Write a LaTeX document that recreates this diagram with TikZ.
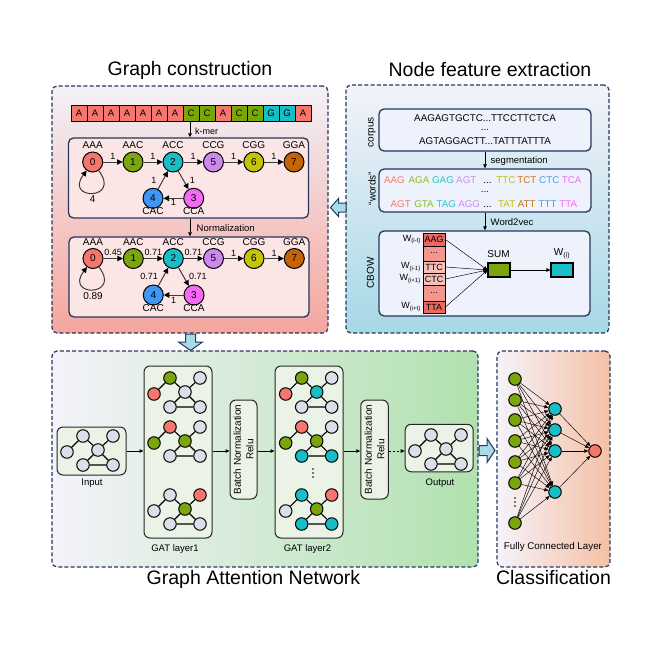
\documentclass[tikz,border=0pt]{standalone}
\usepackage{fontspec}
\setmainfont{Liberation Sans}
\usetikzlibrary{arrows.meta}
\definecolor{navy}{RGB}{38,56,92}
\definecolor{nred}{RGB}{244,118,108}
\definecolor{ngreen}{RGB}{122,166,12}
\definecolor{ncyan}{RGB}{24,190,198}
\definecolor{nviolet}{RGB}{204,136,238}
\definecolor{nyellow}{RGB}{196,196,8}
\definecolor{nbrown}{RGB}{196,100,4}
\definecolor{nblue}{RGB}{64,150,245}
\definecolor{nmag}{RGB}{245,106,245}
\definecolor{ngray}{RGB}{222,222,235}
\definecolor{edgegray}{RGB}{60,60,60}
\definecolor{lightblue}{RGB}{168,218,232}
\definecolor{pinkbox}{RGB}{252,229,229}
\definecolor{bluebox}{RGB}{238,242,252}
\definecolor{greenbox}{RGB}{234,243,229}
\definecolor{wred}{RGB}{244,122,112}
\definecolor{wgreen}{RGB}{140,190,38}
\definecolor{wcyan}{RGB}{38,196,204}
\definecolor{wviolet}{RGB}{200,140,240}
\definecolor{wyellow}{RGB}{190,190,16}
\definecolor{wbrown}{RGB}{200,114,26}
\definecolor{wblue}{RGB}{76,155,245}
\definecolor{wmag}{RGB}{240,112,240}
\definecolor{cdark}{RGB}{238,104,96}
\definecolor{cmid}{RGB}{243,150,142}
\definecolor{clight}{RGB}{247,192,186}
\newcommand\tdots{...}
\newcommand\gatgraph[9]{%
 \node[gn, fill=#4] (#1A) at ({#2-31},{#3+2}) {};
 \node[gn, fill=#5] (#1B) at ({#2-15},{#3-14}) {};
 \node[gn, fill=#6] (#1C) at ({#2+15},{#3-14}) {};
 \node[gn, fill=#7] (#1D) at (#2,#3) {};
 \node[gn, fill=#8] (#1E) at ({#2-15},{#3+15}) {};
 \node[gn, fill=#9] (#1F) at ({#2+15},{#3+15}) {};
 \draw[gedge] (#1A)--(#1B) (#1B)--(#1D) (#1C)--(#1D) (#1D)--(#1E) (#1D)--(#1F) (#1E)--(#1F);
}
\begin{document}
\begin{tikzpicture}[x=1pt,y=-1pt,
 panel/.style={draw=navy, line width=1.2pt, dash pattern=on 4pt off 2.2pt, rounded corners=5pt, inner sep=0pt},
 ibox/.style={draw=navy, line width=1.3pt, rounded corners=5pt, inner sep=0pt},
 gbox/.style={draw=black!85, line width=1pt, rounded corners=6pt, fill=greenbox, inner sep=0pt},
 kn/.style={circle, draw=black, line width=1pt, minimum size=20pt, inner sep=0pt, font=\fontsize{10}{10}\selectfont},
 gn/.style={circle, draw=black, line width=1pt, minimum size=12.5pt, inner sep=0pt},
 kedge/.style={draw=edgegray, line width=1pt, -{Triangle[length=5.5pt,width=5.5pt,color=black]}},
 gedge/.style={draw=black, line width=1.1pt},
 arr/.style={draw=black, line width=0.7pt, -{Triangle[length=4pt,width=3.5pt]}},
 thinarr/.style={draw=black, line width=0.45pt, -{Triangle[length=4pt,width=3.5pt]}},
 lab/.style={inner sep=0pt, font=\fontsize{10}{11}\selectfont},
 elab/.style={inner sep=0pt, font=\fontsize{9}{10}\selectfont},
 wlab/.style={inner sep=0pt, text height=7pt, text depth=0pt, font=\fontsize{9.8}{11}\selectfont},
 ttl/.style={inner sep=0pt, font=\fontsize{19.5}{21}\selectfont},
 seqbox/.style={draw=black, line width=0.8pt, minimum width=16pt, minimum height=16pt, inner sep=0pt, font=\fontsize{9.5}{10}\selectfont},
 cbcell/.style={draw=black, line width=0.9pt, minimum width=22pt, inner sep=0pt, font=\fontsize{9}{10}\selectfont},
 blockarr/.style={draw=navy, fill=lightblue, line width=1pt, line join=miter},
 vdot/.style={circle, fill=black, inner sep=0pt, minimum size=1.7pt}
]
\useasboundingbox (0,0) rectangle (664,664);
\fill[white] (0,0) rectangle (664,664);

% ---------- panels ----------
\node[panel, minimum width=276pt, minimum height=247pt,
  top color={rgb,255:red,243;green,241;blue,247}, middle color={rgb,255:red,249;green,214;blue,214}, bottom color={rgb,255:red,244;green,166;blue,158}] (pGC) at (190,209.5) {};
\node[panel, minimum width=263pt, minimum height=248pt,
  top color={rgb,255:red,243;green,243;blue,250}, middle color={rgb,255:red,212;green,235;blue,243}, bottom color={rgb,255:red,166;green,216;blue,230}] (pNF) at (477.5,209) {};
\node[panel, minimum width=426pt, minimum height=216pt,
  left color={rgb,255:red,244;green,243;blue,250}, middle color={rgb,255:red,210;green,236;blue,207}, right color={rgb,255:red,176;green,225;blue,174}] (pGAT) at (265,459) {};
\node[panel, minimum width=113pt, minimum height=216pt,
  left color={rgb,255:red,245;green,243;blue,250}, middle color={rgb,255:red,246;green,222;blue,212}, right color={rgb,255:red,245;green,192;blue,165}] (pCL) at (553.5,459) {};

% titles
\node[ttl] (tGC) at (190,70) {Graph construction};
\node[ttl] (tNF) at (490,70) {Node feature extraction};
\node[ttl] (tGAT) at (253.5,579) {Graph Attention Network};
\node[ttl] (tCL) at (553.5,578) {Classification};

% block arrows
\draw[blockarr] (185.5,334) -- (195.5,334) -- (195.5,342) -- (202.5,342) -- (190.5,350.5) -- (178.5,342) -- (185.5,342) -- cycle;
\draw[blockarr] (346,203) -- (338.5,203) -- (338.5,198.5) -- (330.5,207.5) -- (338.5,216.5) -- (338.5,212) -- (346,212) -- cycle;
\draw[blockarr] (479,445.5) -- (487,445.5) -- (487,438.5) -- (495,450.5) -- (487,462.5) -- (487,455.5) -- (479,455.5) -- cycle;

% ---------- Graph construction ----------
\foreach \l/\c [count=\i] in {A/nred,A/nred,A/nred,A/nred,A/nred,A/nred,A/nred,C/ngreen,C/ngreen,A/nred,C/ngreen,C/ngreen,G/ncyan,G/ncyan,A/nred}
  \node[seqbox, fill=\c] (s\i) at ({63+16*\i},113) {\l};

\node[ibox, fill=pinkbox, minimum width=240pt, minimum height=80pt] (box1) at (188.5,178) {};
\node[ibox, fill=pinkbox, minimum width=240pt, minimum height=80pt] (box2) at (189,277) {};

\draw[arr] (190,121) -- (190,137.3);
\node[elab, anchor=west] (kmer) at (195,131) {k-mer};
\draw[arr] (190,218.7) -- (190,236.3);
\node[elab, anchor=west, font=\fontsize{9.5}{10}\selectfont] (norm) at (196.5,228.5) {Normalization};

% box1 graph
\node[kn, fill=nred] (a0) at (92.7,162) {0};
\node[kn, fill=ngreen] (a1) at (133,162) {1};
\node[kn, fill=ncyan] (a2) at (173,162) {2};
\node[kn, fill=nviolet] (a5) at (213.4,162) {5};
\node[kn, fill=nyellow] (a6) at (253.8,162) {6};
\node[kn, fill=nbrown] (a7) at (294,162) {7};
\node[kn, fill=nblue] (a4) at (153,198.3) {4};
\node[kn, fill=nmag] (a3) at (193.7,198.3) {3};
\node[lab] (la0) at (92.7,145) {AAA};
\node[lab] (la1) at (133,145) {AAC};
\node[lab] (la2) at (173,145) {ACC};
\node[lab] (la5) at (213.4,145) {CCG};
\node[lab] (la6) at (253.8,145) {CGG};
\node[lab] (la7) at (294,145) {GGA};
\node[lab] (la4) at (153,211) {CAC};
\node[lab] (la3) at (193.7,211) {CCA};
\draw[kedge] (a0) -- node[elab, above=2pt] (e01) {1} (a1);
\draw[kedge] (a1) -- node[elab, above=2pt] (e12) {1} (a2);
\draw[kedge] (a2) -- node[elab, above=2pt] (e25) {1} (a5);
\draw[kedge] (a5) -- node[elab, above=2pt] (e56) {1} (a6);
\draw[kedge] (a6) -- node[elab, above=2pt] (e67) {1} (a7);
\draw[kedge] (a2) -- node[elab, right=6pt] (e23) {1} (a3);
\draw[kedge] (a3) -- node[elab, below=1pt] (e34) {1} (a4);
\draw[kedge] (a4) -- node[elab, left=6pt] (e42) {1} (a2);
\draw[kedge] (a0.-55) .. controls +(23,30) and +(-23,30) .. (a0.235);
\node[lab] (loop1) at (92.7,199.5) {4};

% box2 graph
\node[kn, fill=nred] (b0) at (93,258.5) {0};
\node[kn, fill=ngreen] (b1) at (133.3,258.5) {1};
\node[kn, fill=ncyan] (b2) at (173.3,258.5) {2};
\node[kn, fill=nviolet] (b5) at (213.5,258.5) {5};
\node[kn, fill=nyellow] (b6) at (254,258.5) {6};
\node[kn, fill=nbrown] (b7) at (294.3,258.5) {7};
\node[kn, fill=nblue] (b4) at (153.3,295) {4};
\node[kn, fill=nmag] (b3) at (194,295) {3};
\node[lab] (lb0) at (93,241.7) {AAA};
\node[lab] (lb1) at (133.3,241.7) {AAC};
\node[lab] (lb2) at (173.3,241.7) {ACC};
\node[lab] (lb5) at (213.5,241.7) {CCG};
\node[lab] (lb6) at (254,241.7) {CGG};
\node[lab] (lb7) at (294.3,241.7) {GGA};
\node[lab] (lb4) at (153.3,308.5) {CAC};
\node[lab] (lb3) at (194,308.5) {CCA};
\draw[kedge] (b0) -- node[elab, above=2pt] (f01) {0.45} (b1);
\draw[kedge] (b1) -- node[elab, above=2pt] (f12) {0.71} (b2);
\draw[kedge] (b2) -- node[elab, above=2pt] (f25) {0.71} (b5);
\draw[kedge] (b5) -- node[elab, above=2pt] (f56) {1} (b6);
\draw[kedge] (b6) -- node[elab, above=2pt] (f67) {1} (b7);
\draw[kedge] (b2) -- node[elab, right=5pt] (f23) {0.71} (b3);
\draw[kedge] (b3) -- node[elab, below=2pt] (f34) {1} (b4);
\draw[kedge] (b4) -- node[elab, left=5pt] (f42) {0.71} (b2);
\draw[kedge] (b0.-55) .. controls +(23,30) and +(-23,30) .. (b0.235);
\node[lab] (loop2) at (93,296) {0.89};

% ---------- Node feature extraction ----------
\node[ibox, fill=bluebox, minimum width=212pt, minimum height=42pt] (corpus) at (485,130) {};
\node[wlab] (cr1) at (485,118) {AAGAGTGCTC...TTCCTTCTCA};
\node[wlab] (cr2) at (485,127) {...};
\node[wlab] (cr3) at (485,141) {AGTAGGACTT...TATTTATTTA};
\node[lab, rotate=90] (corpl) at (372,132) {corpus};

\node[ibox, fill=bluebox, minimum width=212pt, minimum height=43pt] (words) at (485,190.5) {};
\node[lab, rotate=90] (wordsl) at (372,188.5) {“words”};
\foreach \t/\c/\x [count=\i] in {AAG/wred/394.5, AGA/wgreen/419, GAG/wcyan/443, AGT/wviolet/466.3, \tdots/black/487.5, TTC/wyellow/505.8, TCT/wbrown/526.8, CTC/wblue/549.3, TCA/wmag/571.7}
  \node[wlab, text=\c] (w\i) at (\x,179.5) {\t};
\node[wlab] (wdots) at (485,188.5) {...};
\foreach \t/\c/\x [count=\i] in {AGT/wred/400.7, GTA/wgreen/424, TAG/wcyan/446.3, AGG/wviolet/469.2, \tdots/black/487.5, TAT/wyellow/506.7, ATT/wbrown/526.8, TTT/wblue/547.7, TTA/wmag/568.3}
  \node[wlab, text=\c] (v\i) at (\x,203.5) {\t};

\draw[arr] (corpus.south) -- (words.north);
\node[elab, anchor=west, font=\fontsize{9.5}{10}\selectfont] (segl) at (490.5,161) {segmentation};

\node[ibox, fill=bluebox, minimum width=211pt, minimum height=85pt] (cbow) at (484.5,273.5) {};
\draw[arr] (words.south) -- (words.south |- cbow.north);
\node[elab, anchor=west, font=\fontsize{9.5}{10}\selectfont] (w2vl) at (490.5,222) {Word2vec};
\node[lab, rotate=90] (cbowl) at (370.5,273) {CBOW};

\node[cbcell, fill=cdark, minimum height=13pt] (c1) at (434,239.5) {AAG};
\node[cbcell, fill=cmid, minimum height=15pt] (c2) at (434,253.5) {...};
\node[cbcell, fill=clight, minimum height=12pt] (c3) at (434,267) {TTC};
\node[cbcell, fill=clight, minimum height=12pt] (c4) at (434,279) {CTC};
\node[cbcell, fill=cmid, minimum height=16pt] (c5) at (434,293) {...};
\node[cbcell, fill=cdark, minimum height=12pt] (c6) at (434,307) {TTA};
\node[elab, anchor=east] (wl1) at (421,239.5) {W\textsubscript{(i-t)}};
\node[elab, anchor=east] (wl3) at (421,267) {W\textsubscript{(i-1)}};
\node[elab, anchor=east] (wl4) at (421,279) {W\textsubscript{(i+1)}};
\node[elab, anchor=east] (wl6) at (421,307) {W\textsubscript{(i+t)}};

\node[draw=black, line width=1.1pt, fill=ngreen, minimum width=22pt, minimum height=14pt, inner sep=0pt] (sum) at (499,270) {};
\node[lab] (suml) at (498.5,254) {SUM};
\node[draw=black, line width=1.1pt, fill=ncyan, minimum width=22pt, minimum height=14pt, inner sep=0pt] (wi) at (562,270) {};
\node[elab, font=\fontsize{10}{11}\selectfont] (wil) at (562,254) {W\textsubscript{(i)}};
\foreach \c in {c1,c3,c4,c6} \draw[thinarr] (\c.east) -- (sum.west);
\draw[thinarr] (sum) -- (wi);

% ---------- GAT ----------
\node[gbox, minimum width=69pt, minimum height=48pt] (input) at (91.5,451) {};
\node[gbox, minimum width=68pt, minimum height=172pt] (gl1) at (178,452) {};
\node[gbox, minimum width=27pt, minimum height=99pt] (bn1) at (243.5,449.5) {};
\node[gbox, minimum width=68pt, minimum height=172pt] (gl2) at (309,452) {};
\node[gbox, minimum width=27.5pt, minimum height=99pt] (bn2) at (374.5,449.5) {};
\node[gbox, minimum width=68pt, minimum height=47.5pt] (output) at (439.2,448) {};

\node[rotate=90, align=center, inner sep=0pt, font=\fontsize{10}{12.5}\selectfont] (bn1t) at (bn1) {Batch Normalization\\Relu};
\node[rotate=90, align=center, inner sep=0pt, font=\fontsize{10}{12.5}\selectfont] (bn2t) at (bn2) {Batch Normalization\\Relu};

\node[elab, font=\fontsize{9.5}{10}\selectfont] (inl) at (92,483) {Input};
\node[elab, font=\fontsize{9.5}{10}\selectfont] (gl1l) at (175,549) {GAT layer1};
\node[elab, font=\fontsize{9.5}{10}\selectfont] (gl2l) at (307.5,549) {GAT layer2};
\node[elab, font=\fontsize{9.5}{10}\selectfont] (outl) at (440,482.7) {Output};

\coordinate (row) at (0,451);
\draw[arr] (input.east |- row) -- (gl1.west |- row);
\draw[arr] (gl1.east |- row) -- (bn1.west |- row);
\draw[arr] (bn1.east |- row) -- (gl2.west |- row);
\draw[arr] (gl2.east |- row) -- (bn2.west |- row);
\draw[arr, dash pattern=on 2.5pt off 1.5pt] (bn2.east |- row) -- (output.west |- row);

\gatgraph{in}{98}{450}{ngray}{ngray}{ngray}{ngray}{ngray}{ngray}
\gatgraph{p}{185}{392}{nred}{ngreen}{ngray}{ngray}{ngray}{ngray}
\gatgraph{q}{185}{441}{ngreen}{nred}{ngray}{ngreen}{ngray}{ngray}
\gatgraph{r}{185}{509}{ngray}{ngray}{nred}{ngreen}{ngray}{ngray}
\gatgraph{s}{316.7}{392}{nred}{ngreen}{ngray}{ncyan}{ngray}{ngray}
\gatgraph{t}{316.7}{441}{ngreen}{nred}{ngray}{ngreen}{ncyan}{ncyan}
\gatgraph{u}{316.7}{509}{ngray}{ncyan}{nred}{ngreen}{ncyan}{ncyan}
\gatgraph{o}{446}{449}{ngray}{ngray}{ngray}{ngray}{ngray}{ngray}
\node[vdot] (gd1) at (313,469) {};
\node[vdot] (gd2) at (313,473) {};
\node[vdot] (gd3) at (313,477) {};

% ---------- Classification ----------
\foreach \y [count=\i] in {379,400,420,441,462,483,523}
  \node[gn, fill=ngreen] (g\i) at (515,\y) {};
\node[vdot] (fd1) at (515,498) {};
\node[vdot] (fd2) at (515,502) {};
\node[vdot] (fd3) at (515,506) {};
\foreach \y [count=\j] in {409,430,451,492}
  \node[gn, fill=ncyan] (h\j) at (555,\y) {};
\node[gn, fill=nred] (out) at (595,451) {};
\foreach \i in {1,...,7}
  \foreach \j in {1,...,4}
    \draw[thinarr] (g\i) -- (h\j);
\foreach \j in {1,...,4}
  \draw[thinarr] (h\j) -- (out);
\node[elab, font=\fontsize{9.8}{10}\selectfont] (fcl) at (553,547) {Fully Connected Layer};
\end{tikzpicture}
\end{document}
